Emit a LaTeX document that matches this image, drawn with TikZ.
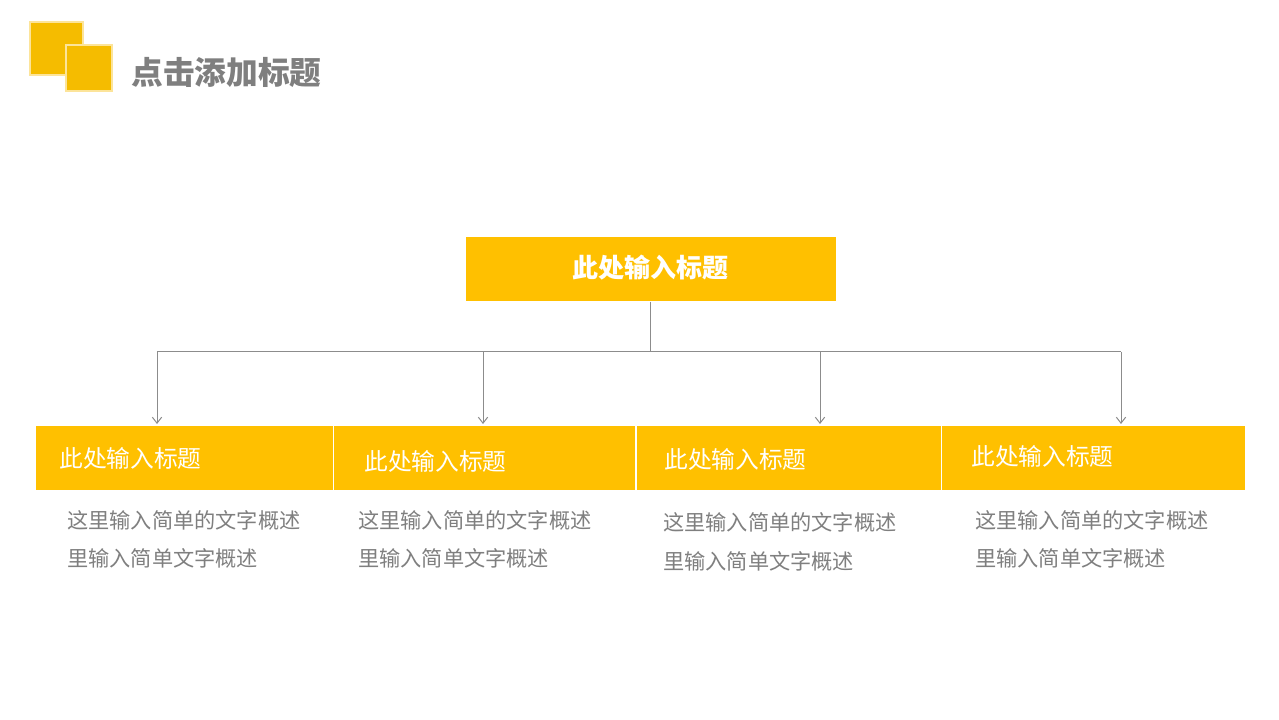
\documentclass[tikz,border=0pt]{standalone}
\usepackage{fontspec}
\setmainfont{Noto Sans CJK SC}
\usetikzlibrary{arrows.meta}
\definecolor{gold}{HTML}{FFC000}
\definecolor{logogold}{HTML}{F5BC00}
\definecolor{logoedge}{HTML}{FCE49A}
\definecolor{txtgray}{HTML}{7F7F7F}
\definecolor{linegray}{HTML}{8C8C8C}
\tikzset{
  logosq/.style={fill=logogold, draw=logoedge, line width=0.9pt},
  goldbox/.style={fill=gold, draw=none, inner sep=0pt, anchor=north west},
  toptitle/.style={text=white, font=\bfseries\fontsize{19.5pt}{22pt}\selectfont},
  subtitle/.style={text=white, anchor=west, inner sep=0pt, font=\fontsize{17.8pt}{20pt}\selectfont},
  desc/.style={text=txtgray, anchor=west, inner sep=0pt, font=\fontsize{15.9pt}{18pt}\selectfont},
  conn/.style={draw=linegray, line width=0.75pt},
  arr/.style={conn, -{Straight Barb[length=4.5pt,width=7pt]}}
}
\begin{document}
\begin{tikzpicture}[x=0.75pt,y=-0.75pt]
\useasboundingbox[fill=white] (0,0) rectangle (1279,720);
% logo
\draw[logosq] (30,22) rectangle (83,75);
\draw[logosq] (66,45) rectangle (112,91);
\node[anchor=west, inner sep=0pt, text=txtgray, font=\bfseries\fontsize{23.8pt}{26pt}\selectfont] (title) at (131,72) {点击添加标题};
% top box
\node[goldbox, minimum width=370*0.75pt, minimum height=64*0.75pt] (top) at (466,237) {};
\node[toptitle] (toptext) at (650,268) {此处输入标题};
% bottom boxes
\node[goldbox, minimum width=297*0.75pt, minimum height=64*0.75pt] (b1) at (36,426) {};
\node[goldbox, minimum width=301*0.75pt, minimum height=64*0.75pt] (b2) at (334,426) {};
\node[goldbox, minimum width=304*0.75pt, minimum height=64*0.75pt] (b3) at (637,426) {};
\node[goldbox, minimum width=303*0.75pt, minimum height=64*0.75pt] (b4) at (942,426) {};
\node[subtitle] (s1) at (59,458) {此处输入标题};
\node[subtitle] (s2) at (364,461) {此处输入标题};
\node[subtitle] (s3) at (664,459) {此处输入标题};
\node[subtitle] (s4) at (971,456) {此处输入标题};
% descriptions
\node[desc] (d1a) at (67,520) {这里输入简单的文字概述};
\node[desc] (d1b) at (67,558) {里输入简单文字概述};
\node[desc] (d2a) at (358,520) {这里输入简单的文字概述};
\node[desc] (d2b) at (358,558) {里输入简单文字概述};
\node[desc] (d3a) at (663,522) {这里输入简单的文字概述};
\node[desc] (d3b) at (663,561) {里输入简单文字概述};
\node[desc] (d4a) at (975,520) {这里输入简单的文字概述};
\node[desc] (d4b) at (975,558) {里输入简单文字概述};
% connectors
\coordinate (j) at (650,352);
\coordinate (a1) at (157,352);
\coordinate (a2) at (483,352);
\coordinate (a3) at (820,352);
\coordinate (a4) at (1121,352);
\draw[conn] (top.south -| j) -- (j);
\draw[conn] (a1) -- (a4);
\draw[arr] (a1) -- ([yshift=1.5pt]a1 |- b1.north);
\draw[arr] (a2) -- ([yshift=1.5pt]a2 |- b2.north);
\draw[arr] (a3) -- ([yshift=1.5pt]a3 |- b3.north);
\draw[arr] (a4) -- ([yshift=1.5pt]a4 |- b4.north);
\end{tikzpicture}
\end{document}
